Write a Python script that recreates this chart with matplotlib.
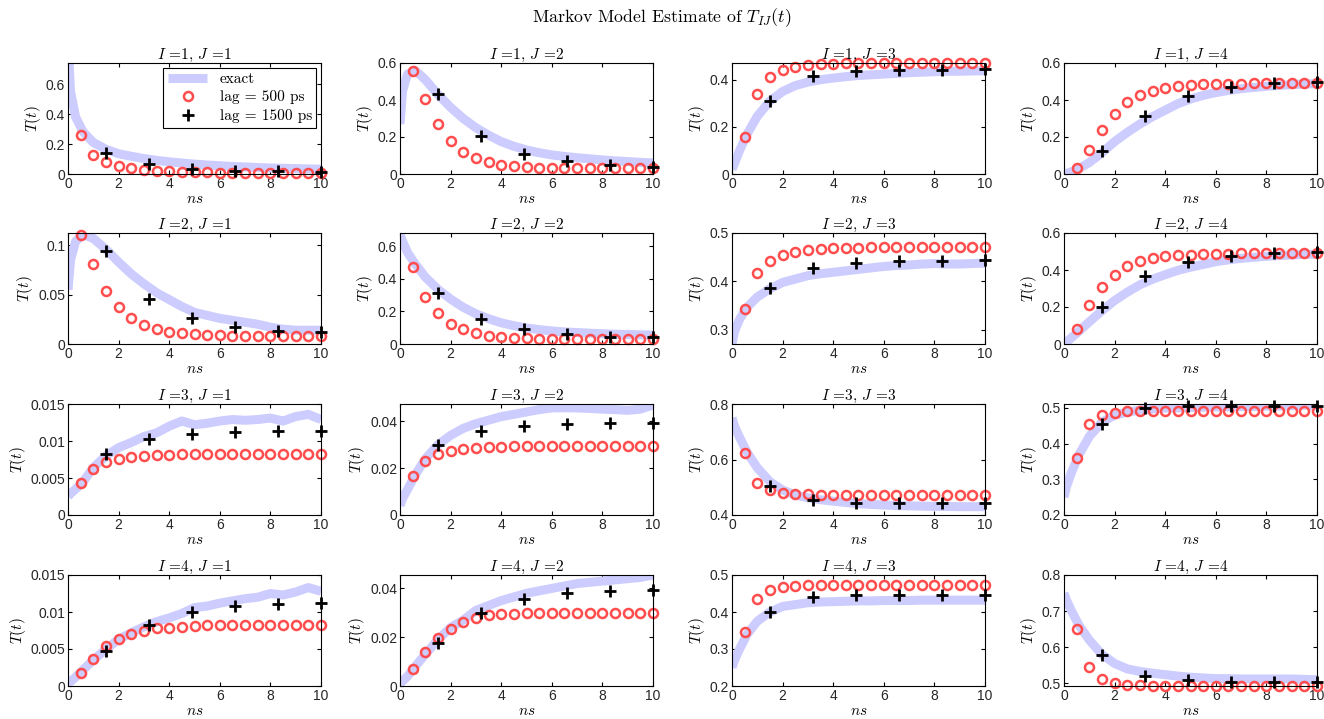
import numpy as np
import matplotlib
matplotlib.use("Agg")
import matplotlib.pyplot as plt

# --- Data ---
# time grid of the "exact" curves (ns)
t_exact = [0, 0.1, 0.3, 0.6, 1, 1.5, 2, 2.5, 3, 3.5, 4, 4.5, 5, 5.5, 6, 6.5,
           7, 7.5, 8, 8.5, 9, 9.5, 10]
# Markov model estimates: lag 500 ps and lag 1500 ps
t_lag500 = [0.5, 1, 1.5, 2, 2.5, 3, 3.5, 4, 4.5, 5, 5.5, 6, 6.5, 7, 7.5, 8,
            8.5, 9, 9.5, 10]
t_lag1500 = [1.5, 3.2, 4.9, 6.6, 8.3, 10]

exact_11 = [0.9, 0.55, 0.38, 0.28, 0.21, 0.165, 0.135, 0.118, 0.103, 0.091, 0.081,
            0.073, 0.066, 0.06, 0.055, 0.05, 0.047, 0.043, 0.04, 0.038, 0.036, 0.034, 0.032]
lag500_11 = [0.26, 0.13, 0.08, 0.055, 0.04, 0.03, 0.022, 0.017, 0.014, 0.012, 0.011,
             0.01, 0.01, 0.01, 0.01, 0.01, 0.01, 0.01, 0.01, 0.01]
lag1500_11 = [0.14, 0.065, 0.035, 0.02, 0.018, 0.015]

exact_12 = [0.27, 0.45, 0.54, 0.56, 0.51, 0.43, 0.36, 0.3, 0.25, 0.21, 0.175, 0.15,
            0.13, 0.115, 0.103, 0.095, 0.088, 0.082, 0.076, 0.071, 0.067, 0.063, 0.06]
lag500_12 = [0.555, 0.405, 0.27, 0.18, 0.12, 0.085, 0.065, 0.05, 0.045, 0.04, 0.035,
             0.033, 0.031, 0.03, 0.03, 0.03, 0.03, 0.03, 0.03, 0.03]
lag1500_12 = [0.43, 0.205, 0.11, 0.07, 0.05, 0.04]

exact_13 = [0.02, 0.045, 0.1, 0.17, 0.245, 0.31, 0.35, 0.375, 0.39, 0.4, 0.407, 0.413,
            0.418, 0.421, 0.424, 0.427, 0.43, 0.432, 0.434, 0.436, 0.436, 0.437, 0.438]
lag500_13 = [0.155, 0.34, 0.41, 0.44, 0.455, 0.462, 0.465, 0.468, 0.469, 0.47, 0.47,
             0.471, 0.471, 0.471, 0.471, 0.471, 0.471, 0.471, 0.471, 0.471]
lag1500_13 = [0.31, 0.415, 0.435, 0.44, 0.442, 0.445]

exact_14 = [0.0, 0.003, 0.012, 0.03, 0.062, 0.115, 0.175, 0.225, 0.27, 0.31, 0.345,
            0.38, 0.405, 0.425, 0.44, 0.452, 0.461, 0.468, 0.474, 0.479, 0.483, 0.486, 0.489]
lag500_14 = [0.035, 0.13, 0.24, 0.325, 0.39, 0.425, 0.45, 0.465, 0.475, 0.48, 0.485,
             0.487, 0.488, 0.489, 0.49, 0.49, 0.49, 0.49, 0.49, 0.49]
lag1500_14 = [0.125, 0.315, 0.42, 0.47, 0.49, 0.495]

exact_21 = [0.055, 0.085, 0.104, 0.111, 0.107, 0.096, 0.083, 0.071, 0.061, 0.052, 0.045,
            0.038, 0.032, 0.029, 0.026, 0.024, 0.022, 0.02, 0.017, 0.015, 0.014, 0.014, 0.014]
lag500_21 = [0.11, 0.081, 0.054, 0.037, 0.026, 0.019, 0.015, 0.012, 0.011, 0.01, 0.009,
             0.009, 0.008, 0.008, 0.008, 0.008, 0.008, 0.008, 0.008, 0.008]
lag1500_21 = [0.094, 0.046, 0.026, 0.017, 0.013, 0.012]

exact_22 = [0.67, 0.63, 0.56, 0.49, 0.41, 0.335, 0.275, 0.225, 0.185, 0.155, 0.13, 0.112,
            0.098, 0.088, 0.08, 0.074, 0.07, 0.066, 0.063, 0.06, 0.058, 0.056, 0.055]
lag500_22 = [0.47, 0.29, 0.19, 0.125, 0.09, 0.065, 0.052, 0.043, 0.038, 0.035, 0.033,
             0.031, 0.03, 0.03, 0.03, 0.03, 0.03, 0.03, 0.03, 0.03]
lag1500_22 = [0.315, 0.155, 0.09, 0.06, 0.045, 0.04]

exact_23 = [0.272, 0.297, 0.322, 0.347, 0.368, 0.385, 0.398, 0.405, 0.412, 0.416, 0.419,
            0.422, 0.425, 0.428, 0.431, 0.433, 0.434, 0.436, 0.437, 0.436, 0.436, 0.437, 0.438]
lag500_23 = [0.343, 0.417, 0.443, 0.455, 0.461, 0.465, 0.467, 0.469, 0.47, 0.47, 0.471,
             0.471, 0.471, 0.471, 0.471, 0.471, 0.471, 0.471, 0.471, 0.471]
lag1500_23 = [0.387, 0.428, 0.438, 0.442, 0.443, 0.445]

exact_24 = [0.0, 0.01, 0.035, 0.07, 0.12, 0.18, 0.235, 0.28, 0.32, 0.35, 0.375, 0.398,
            0.415, 0.43, 0.445, 0.455, 0.463, 0.469, 0.474, 0.478, 0.481, 0.484, 0.486]
lag500_24 = [0.08, 0.21, 0.31, 0.375, 0.42, 0.447, 0.463, 0.473, 0.479, 0.483, 0.486,
             0.488, 0.489, 0.49, 0.49, 0.49, 0.49, 0.49, 0.49, 0.49]
lag1500_24 = [0.2, 0.37, 0.445, 0.478, 0.49, 0.495]

exact_31 = [0.0025, 0.0029, 0.0035, 0.0045, 0.0064, 0.008, 0.0091, 0.0098, 0.0106,
            0.0111, 0.012, 0.0127, 0.0122, 0.0124, 0.0127, 0.0129, 0.0128, 0.0129,
            0.0131, 0.0127, 0.0133, 0.0136, 0.0129]
lag500_31 = [0.0043, 0.0062, 0.0071, 0.0076, 0.0078, 0.008, 0.0081, 0.0081, 0.0082,
             0.0082, 0.0082, 0.0082, 0.0082, 0.0082, 0.0082, 0.0082, 0.0082, 0.0082,
             0.0082, 0.0082]
lag1500_31 = [0.0082, 0.0103, 0.011, 0.0112, 0.0113, 0.0114]

exact_32 = [0.004, 0.007, 0.011, 0.017, 0.024, 0.03, 0.034, 0.037, 0.039, 0.0405, 0.042,
            0.043, 0.044, 0.045, 0.0457, 0.0458, 0.0457, 0.0455, 0.0452, 0.045, 0.0447,
            0.0452, 0.047]
lag500_32 = [0.0165, 0.023, 0.026, 0.0272, 0.028, 0.0287, 0.029, 0.0292, 0.0294, 0.0295,
             0.0295, 0.0296, 0.0296, 0.0296, 0.0296, 0.0296, 0.0296, 0.0296, 0.0296, 0.0296]
lag1500_32 = [0.03, 0.036, 0.038, 0.039, 0.0395, 0.0395]

exact_33 = [0.75, 0.72, 0.68, 0.625, 0.57, 0.52, 0.49, 0.472, 0.462, 0.455, 0.45, 0.445,
            0.441, 0.438, 0.436, 0.434, 0.433, 0.432, 0.431, 0.431, 0.43, 0.43, 0.43]
lag500_33 = [0.625, 0.515, 0.49, 0.48, 0.476, 0.474, 0.473, 0.472, 0.472, 0.472, 0.472,
             0.472, 0.472, 0.472, 0.472, 0.472, 0.472, 0.472, 0.472, 0.472]
lag1500_33 = [0.505, 0.455, 0.445, 0.445, 0.445, 0.445]

exact_34 = [0.25, 0.28, 0.32, 0.37, 0.42, 0.46, 0.48, 0.488, 0.494, 0.497, 0.5, 0.5,
            0.501, 0.502, 0.503, 0.503, 0.504, 0.504, 0.505, 0.505, 0.506, 0.508, 0.505]
lag500_34 = [0.36, 0.455, 0.48, 0.487, 0.49, 0.49, 0.49, 0.49, 0.49, 0.49, 0.49, 0.49,
             0.49, 0.49, 0.49, 0.49, 0.49, 0.49, 0.49, 0.49]
lag1500_34 = [0.455, 0.5, 0.505, 0.505, 0.505, 0.505]

exact_41 = [0.0003, 0.0006, 0.0012, 0.0022, 0.0035, 0.005, 0.0063, 0.0072, 0.008, 0.0087,
            0.0092, 0.0098, 0.0106, 0.0108, 0.0112, 0.0115, 0.0118, 0.012, 0.0125, 0.0123,
            0.0127, 0.0133, 0.0128]
lag500_41 = [0.0017, 0.0037, 0.0054, 0.0064, 0.007, 0.0075, 0.0078, 0.0079, 0.008, 0.0081,
             0.0082, 0.0082, 0.0082, 0.0082, 0.0082, 0.0082, 0.0082, 0.0082, 0.0082, 0.0082]
lag1500_41 = [0.0047, 0.0083, 0.01, 0.0108, 0.0111, 0.0112]

exact_42 = [0.001, 0.002, 0.004, 0.008, 0.013, 0.019, 0.024, 0.027, 0.031, 0.033, 0.035,
            0.0365, 0.038, 0.039, 0.04, 0.041, 0.042, 0.0425, 0.043, 0.0435, 0.044, 0.0445, 0.0455]
lag500_42 = [0.007, 0.014, 0.0195, 0.0235, 0.0262, 0.028, 0.029, 0.0295, 0.0297, 0.0298,
             0.0298, 0.0298, 0.0298, 0.0298, 0.0298, 0.0298, 0.0298, 0.0298, 0.0298, 0.0298]
lag1500_42 = [0.0175, 0.03, 0.0355, 0.038, 0.039, 0.0395]

exact_43 = [0.25, 0.27, 0.3, 0.34, 0.375, 0.4, 0.415, 0.42, 0.425, 0.427, 0.428, 0.429,
            0.43, 0.43, 0.431, 0.431, 0.431, 0.432, 0.432, 0.432, 0.432, 0.432, 0.432]
lag500_43 = [0.345, 0.435, 0.46, 0.467, 0.47, 0.472, 0.472, 0.472, 0.472, 0.472, 0.472,
             0.472, 0.472, 0.472, 0.472, 0.472, 0.472, 0.472, 0.472, 0.472]
lag1500_43 = [0.4, 0.44, 0.445, 0.445, 0.445, 0.445]

exact_44 = [0.75, 0.73, 0.7, 0.66, 0.62, 0.58, 0.555, 0.54, 0.533, 0.528, 0.524, 0.52,
            0.517, 0.515, 0.513, 0.513, 0.512, 0.512, 0.512, 0.512, 0.512, 0.511, 0.51]
lag500_44 = [0.65, 0.545, 0.512, 0.5, 0.496, 0.494, 0.493, 0.493, 0.493, 0.493, 0.493,
             0.493, 0.493, 0.493, 0.493, 0.493, 0.493, 0.493, 0.493, 0.493]
lag1500_44 = [0.578, 0.52, 0.51, 0.505, 0.503, 0.503]

# y-axis ranges and ticks of each panel
ylims = {(1, 1): (0, 0.74), (1, 2): (0, 0.6), (1, 3): (0, 0.471), (1, 4): (0, 0.6),
         (2, 1): (0, 0.1125), (2, 2): (0, 0.68), (2, 3): (0.271, 0.5), (2, 4): (0, 0.6),
         (3, 1): (0, 0.015), (3, 2): (0, 0.0474), (3, 3): (0.4, 0.8), (3, 4): (0.2, 0.511),
         (4, 1): (0, 0.015), (4, 2): (0, 0.0455), (4, 3): (0.2, 0.5), (4, 4): (0.4926, 0.8)}
yticks = {(1, 1): [0, 0.2, 0.4, 0.6], (1, 2): [0, 0.2, 0.4, 0.6], (1, 3): [0, 0.2, 0.4],
          (1, 4): [0, 0.2, 0.4, 0.6], (2, 1): [0, 0.05, 0.1], (2, 2): [0, 0.2, 0.4, 0.6],
          (2, 3): [0.3, 0.4, 0.5], (2, 4): [0, 0.2, 0.4, 0.6],
          (3, 1): [0, 0.005, 0.01, 0.015], (3, 2): [0, 0.02, 0.04], (3, 3): [0.4, 0.6, 0.8],
          (3, 4): [0.2, 0.3, 0.4, 0.5], (4, 1): [0, 0.005, 0.01, 0.015],
          (4, 2): [0, 0.02, 0.04], (4, 3): [0.2, 0.3, 0.4, 0.5], (4, 4): [0.5, 0.6, 0.7, 0.8]}

g = globals()
panels = {(i, j): (g[f'exact_{i}{j}'], g[f'lag500_{i}{j}'], g[f'lag1500_{i}{j}'])
          for i in range(1, 5) for j in range(1, 5)}

# --- Plot ---
plt.rcParams['mathtext.fontset'] = 'cm'
plt.rcParams['font.family'] = ['Liberation Sans', 'DejaVu Sans']
plt.rcParams['axes.unicode_minus'] = False

fig = plt.figure(figsize=(13.24, 7.19), dpi=100)
W, H = 1324, 719
col_left = [68, 400, 732, 1064]
row_top = [63, 233, 404, 575]
aw, ah = 253, 111

exact_c = (0.8, 0.8, 1.0)
red_c = (1.0, 0.3, 0.3)
serif = 'cmr10'

for (i, j), (ex, l5, l15) in panels.items():
    ax = fig.add_axes([col_left[j - 1] / W, 1 - (row_top[i - 1] + ah) / H, aw / W, ah / H])
    ax.plot(t_exact, ex, color=exact_c, lw=6.5, solid_capstyle='butt', label='exact')
    ax.plot(t_lag500, l5, 'o', mfc='none', mec=red_c, ms=6.5, mew=1.8, clip_on=False,
            label='lag = 500 ps')
    ax.plot(t_lag1500, l15, '+', color='black', ms=9, mew=2, clip_on=False,
            label='lag = 1500 ps')
    ax.set_xlim(0, 10)
    ax.set_ylim(*ylims[(i, j)])
    ax.set_xticks([0, 2, 4, 6, 8, 10])
    ax.set_yticks(yticks[(i, j)])
    ax.set_yticklabels(['%g' % v for v in yticks[(i, j)]])
    ax.tick_params(direction='in', top=True, right=True, labelsize=10, length=3,
                   labelcolor=(0.15, 0.15, 0.15), pad=2)
    for s in ax.spines.values():
        s.set_linewidth(0.8)
    ax.set_title(f'$I$ ={i}, $J$ ={j}', fontsize=11, family=serif, pad=3)
    ax.set_ylabel('$T(t)$', fontsize=11, labelpad=2)
    ax.set_xlabel('$ns$', fontsize=11, labelpad=1)
    if (i, j) == (1, 1):
        leg = ax.legend(loc='upper right', prop={'family': serif, 'size': 11},
                        fancybox=False, edgecolor='black', framealpha=1,
                        borderaxespad=0.3, handlelength=2.6, labelspacing=0.3,
                        borderpad=0.3)
        leg.get_frame().set_linewidth(0.8)

fig.text(0.5, 1 - 18 / H, r'Markov Model Estimate of $T_{IJ}(t)$', ha='center', va='center',
         fontsize=12.8, family=serif)

fig.savefig('out.png', dpi=100)
